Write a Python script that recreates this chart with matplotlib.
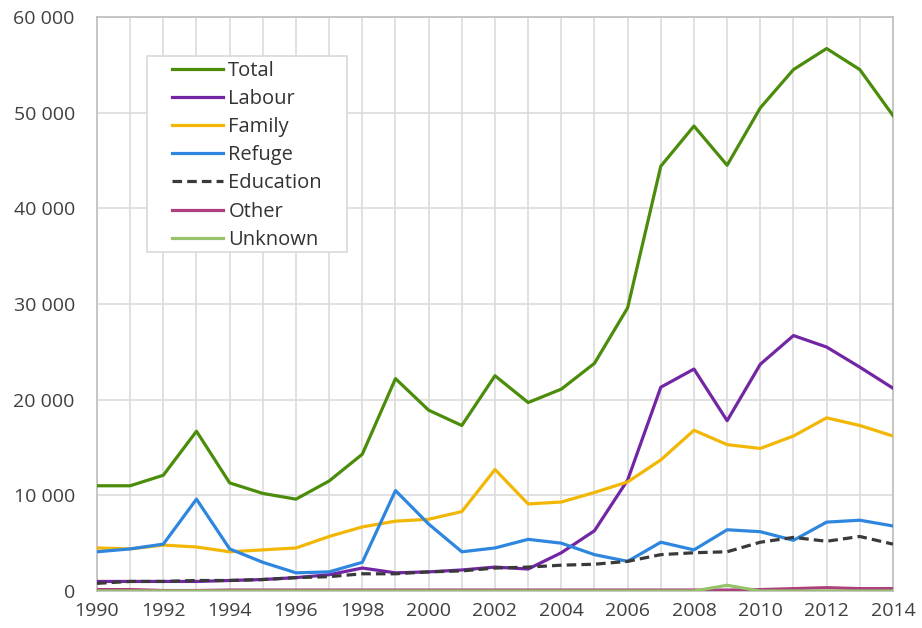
import matplotlib
matplotlib.use("Agg")
import matplotlib.pyplot as plt
from matplotlib.ticker import FuncFormatter, MultipleLocator
from matplotlib.patches import Rectangle

plt.rcParams['font.family'] = ['Open Sans', 'DejaVu Sans']

years = list(range(1990, 2015))
total = [11000, 11000, 12100, 16700, 11300, 10200, 9600, 11500, 14300, 22200,
         18900, 17300, 22500, 19700, 21100, 23800, 29600, 44400, 48600, 44500,
         50500, 54500, 56700, 54500, 49700]
labour = [1000, 1000, 1000, 1000, 1100, 1200, 1400, 1700, 2400, 1900,
          2000, 2200, 2500, 2300, 4000, 6300, 11600, 21300, 23200, 17800,
          23700, 26700, 25500, 23400, 21200]
family = [4500, 4400, 4800, 4600, 4100, 4300, 4500, 5700, 6700, 7300,
          7500, 8300, 12700, 9100, 9300, 10300, 11400, 13700, 16800, 15300,
          14900, 16200, 18100, 17300, 16200]
refuge = [4100, 4400, 4900, 9600, 4400, 3000, 1900, 2000, 3000, 10500,
          7000, 4100, 4500, 5400, 5000, 3800, 3100, 5100, 4300, 6400,
          6200, 5300, 7200, 7400, 6800]
education = [800, 1000, 1000, 1100, 1100, 1200, 1400, 1500, 1800, 1800,
             2000, 2100, 2400, 2500, 2700, 2800, 3100, 3800, 4000, 4100,
             5100, 5600, 5200, 5700, 4900]
other = [150, 150, 50, 50, 100, 100, 100, 100, 100, 100,
         100, 100, 100, 100, 100, 100, 100, 100, 100, 100,
         150, 250, 350, 250, 250]
unknown = [0, 0, 0, 0, 0, 0, 0, 0, 0, 0,
           0, 0, 0, 0, 0, 0, 0, 0, 0, 600,
           0, 0, 0, 0, 0]

series = [
    ("Total", total, "#4b8c0a", "-"),
    ("Labour", labour, "#7226a4", "-"),
    ("Family", family, "#f2b705", "-"),
    ("Refuge", refuge, "#2e86de", "-"),
    ("Education", education, "#3a3a3a", "--"),
    ("Other", other, "#ad3f7f", "-"),
    ("Unknown", unknown, "#96c36a", "-"),
]

fig = plt.figure(figsize=(9.22, 6.28), dpi=100)
ax = fig.add_axes([0.1052, 0.0589, 0.8633, 0.9141])

for name, vals, col, ls in series:
    ax.plot(years, vals, color=col, linestyle=ls, linewidth=2.3, label=name,
            dashes=(3, 1.6) if ls == "--" else (None, None), zorder=3)

ax.set_xlim(1990, 2014)
ax.set_ylim(0, 60000)
ax.xaxis.set_major_locator(MultipleLocator(2))
ax.xaxis.set_minor_locator(MultipleLocator(1))
ax.yaxis.set_major_locator(MultipleLocator(10000))
ax.yaxis.set_major_formatter(FuncFormatter(lambda v, p: f"{int(v):,}".replace(",", " ")))
ax.grid(True, which="both", axis="x", color="#dcdcdc", linewidth=1.2, zorder=0)
ax.grid(True, which="major", axis="y", color="#dcdcdc", linewidth=1.2, zorder=0)
ax.tick_params(which="both", length=0, labelsize=14, colors="#404040")
ax.tick_params(axis="y", pad=16)
ax.tick_params(axis="x", pad=8)
for s in ax.spines.values():
    s.set_color("#bdbdbd")
    s.set_linewidth(1.2)

# legend frame
ax.add_patch(Rectangle((0.0628, 0.5906), 0.2513, 0.3415, transform=ax.transAxes,
                       facecolor="white", edgecolor="#d9d9d9", linewidth=1.2,
                       zorder=4))
leg = ax.legend(loc="upper left", bbox_to_anchor=(0.0942, 0.9235), frameon=False,
                fontsize=14.5, handlelength=2.55, handletextpad=0.25,
                labelspacing=0.405, borderpad=0, borderaxespad=0)
leg.set_zorder(5)
for t in leg.get_texts():
    t.set_color("#333333")

fig.savefig("out.png", dpi=100)
